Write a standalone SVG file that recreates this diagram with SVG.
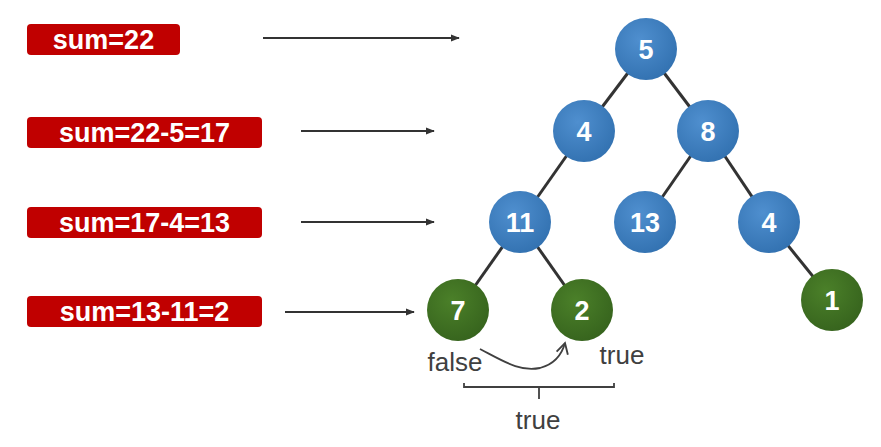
<svg xmlns="http://www.w3.org/2000/svg" width="881" height="447" viewBox="0 0 881 447">
<defs>
<radialGradient id="gb" cx="0.4" cy="0.35" r="0.7">
<stop offset="0" stop-color="#4f8fcf"/><stop offset="1" stop-color="#3271b0"/>
</radialGradient>
<radialGradient id="gg" cx="0.4" cy="0.35" r="0.7">
<stop offset="0" stop-color="#4b8029"/><stop offset="1" stop-color="#36631d"/>
</radialGradient>
<marker id="ah" viewBox="0 0 10 10" refX="9" refY="5" markerWidth="9" markerHeight="9" orient="auto" markerUnits="userSpaceOnUse">
<path d="M0,1 L10,5 L0,9 z" fill="#333"/>
</marker>
<marker id="oh" viewBox="0 0 12 12" refX="10" refY="6" markerWidth="14" markerHeight="14" orient="auto" markerUnits="userSpaceOnUse">
<path d="M1,1 L10,6 L1,11" fill="none" stroke="#404040" stroke-width="1.6"/>
</marker>
<style>
.box{fill:#c00000}
.bt{font-family:"Liberation Sans",Arial,sans-serif;font-weight:bold;font-size:27px;fill:#fff;text-anchor:middle}
.nt{font-family:"Liberation Sans",Arial,sans-serif;font-weight:bold;font-size:27px;fill:#fff;text-anchor:middle}
.lt{font-family:"Liberation Sans",Arial,sans-serif;font-size:26px;fill:#404040;text-anchor:middle}
.e{stroke:#333;stroke-width:3}
.a{stroke:#333;stroke-width:1.8;fill:none}
</style>
</defs>
<rect width="881" height="447" fill="#fff"/>
<g id="connectors">
<line class="e" x1="646" y1="49" x2="584" y2="131"/>
<line class="e" x1="646" y1="49" x2="708" y2="131"/>
<line class="e" x1="584" y1="131" x2="520" y2="222"/>
<line class="e" x1="708" y1="131" x2="645" y2="222"/>
<line class="e" x1="708" y1="131" x2="769" y2="222"/>
<line class="e" x1="769" y1="222" x2="832" y2="300"/>
<line class="e" x1="520" y1="222" x2="458" y2="310"/>
<line class="e" x1="520" y1="222" x2="582" y2="310"/>
<line class="a" x1="263" y1="38" x2="459" y2="38" marker-end="url(#ah)"/>
<line class="a" x1="301" y1="131" x2="434" y2="131" marker-end="url(#ah)"/>
<line class="a" x1="301" y1="222" x2="434" y2="222" marker-end="url(#ah)"/>
<line class="a" x1="285" y1="312" x2="414" y2="312" marker-end="url(#ah)"/>
<path d="M480,349 C505,362 520,372 540,368 C555,364 562,354 565,343" fill="none" stroke="#404040" stroke-width="1.8" marker-end="url(#oh)"/>
<path d="M464,383 L464,387 L614,387 L614,383 M539,387 L539,399" fill="none" stroke="#404040" stroke-width="1.8"/>
</g>
<g id="box1"><rect class="box" x="27" y="24" width="153" height="31" rx="4"/><text class="bt" x="103.5" y="49">sum=22</text></g>
<g id="box2"><rect class="box" x="27" y="117" width="235" height="31" rx="4"/><text class="bt" x="144.5" y="142">sum=22-5=17</text></g>
<g id="box3"><rect class="box" x="27" y="207" width="235" height="31" rx="4"/><text class="bt" x="144.5" y="232">sum=17-4=13</text></g>
<g id="box4"><rect class="box" x="27" y="296" width="235" height="31" rx="4"/><text class="bt" x="144.5" y="321">sum=13-11=2</text></g>
<g id="n5"><circle cx="646" cy="49" r="31" fill="url(#gb)"/><text class="nt" x="646" y="59">5</text></g>
<g id="n4"><circle cx="584" cy="131" r="31" fill="url(#gb)"/><text class="nt" x="584" y="141">4</text></g>
<g id="n8"><circle cx="708" cy="131" r="31" fill="url(#gb)"/><text class="nt" x="708" y="141">8</text></g>
<g id="n11"><circle cx="520" cy="222" r="31" fill="url(#gb)"/><text class="nt" x="520" y="232">11</text></g>
<g id="n13"><circle cx="645" cy="222" r="31" fill="url(#gb)"/><text class="nt" x="645" y="232">13</text></g>
<g id="n4b"><circle cx="769" cy="222" r="31" fill="url(#gb)"/><text class="nt" x="769" y="232">4</text></g>
<g id="n7"><circle cx="458" cy="310" r="31" fill="url(#gg)"/><text class="nt" x="458" y="320">7</text></g>
<g id="n2"><circle cx="582" cy="310" r="31" fill="url(#gg)"/><text class="nt" x="582" y="320">2</text></g>
<g id="n1"><circle cx="832" cy="300" r="31" fill="url(#gg)"/><text class="nt" x="832" y="310">1</text></g>
<g id="labels">
<text class="lt" x="455" y="371">false</text>
<text class="lt" x="622" y="364">true</text>
<text class="lt" x="538" y="429">true</text>
</g>
</svg>
